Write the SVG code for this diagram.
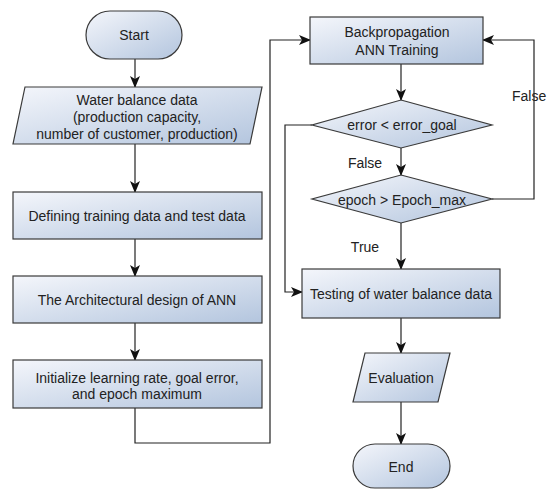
<svg xmlns="http://www.w3.org/2000/svg" width="547" height="490" viewBox="0 0 547 490">
<defs>
<linearGradient id="g" x1="0" y1="0" x2="1" y2="1">
<stop offset="0" stop-color="#f4f6fb"/>
<stop offset="1" stop-color="#b3c5de"/>
</linearGradient>
<marker id="a" viewBox="0 0 12 10" refX="11" refY="5" markerWidth="12" markerHeight="10" markerUnits="userSpaceOnUse" orient="auto">
<path d="M0,0 L12,5 L0,10 L3,5 Z" fill="#111"/>
</marker>
<style>
.s{fill:url(#g);stroke:#3a3a3a;stroke-width:1.2}
.t{font-family:"Liberation Sans",Arial,sans-serif;font-size:14px;fill:#222;text-anchor:middle}
.l{font-family:"Liberation Sans",Arial,sans-serif;font-size:14px;fill:#222}
.c{fill:none;stroke:#222;stroke-width:1.2;marker-end:url(#a)}
</style>
</defs>
<rect width="547" height="490" fill="#fff"/>
<g id="connectors">
<path class="c" d="M135,59 V87"/>
<path class="c" d="M135,144 V192"/>
<path class="c" d="M135,239 V276"/>
<path class="c" d="M135,323 V360"/>
<path class="c" d="M135,408 V443 H270 V40 H310"/>
<path class="c" d="M401,64 V100"/>
<path class="c" d="M401,148 V175"/>
<path class="c" d="M492,199 H534 V40 H483"/>
<path class="c" d="M312,125 H285 V292 H302"/>
<path class="c" d="M401,223 V269"/>
<path class="c" d="M401,318 V353"/>
<path class="c" d="M401,402 V444"/>
<text class="l" x="365" y="168" text-anchor="middle">False</text>
<text class="l" x="365" y="252" text-anchor="middle">True</text>
<text class="l" x="512" y="101">False</text>
</g>
<g id="start">
<rect class="s" x="86" y="11" width="96" height="48" rx="24"/>
<text class="t" x="134" y="40">Start</text>
</g>
<g id="water">
<path class="s" d="M25,87 H262 L250,144 H13 Z"/>
<text class="t" x="137" y="105">Water balance data</text>
<text class="t" x="137" y="122">(production capacity,</text>
<text class="t" x="137" y="139">number of customer, production)</text>
</g>
<g id="define">
<rect class="s" x="13" y="192" width="249" height="47"/>
<text class="t" x="137" y="221">Defining training data and test data</text>
</g>
<g id="arch">
<rect class="s" x="13" y="276" width="249" height="47"/>
<text class="t" x="137" y="305">The Architectural design of ANN</text>
</g>
<g id="init">
<rect class="s" x="13" y="360" width="249" height="48"/>
<text class="t" x="137" y="383">Initialize learning rate, goal error,</text>
<text class="t" x="137" y="399">and epoch maximum</text>
</g>
<g id="backprop">
<rect class="s" x="310" y="17" width="173" height="47"/>
<text class="t" x="397" y="37">Backpropagation</text>
<text class="t" x="397" y="55">ANN Training</text>
</g>
<g id="d1">
<path class="s" d="M401,100 L492,125 L401,148 L312,125 Z"/>
<text class="t" x="402" y="130">error &lt; error_goal</text>
</g>
<g id="d2">
<path class="s" d="M401,175 L492,199 L401,223 L312,199 Z"/>
<text class="t" x="402" y="205">epoch &gt; Epoch_max</text>
</g>
<g id="testing">
<rect class="s" x="302" y="269" width="198" height="49"/>
<text class="t" x="401" y="299">Testing of water balance data</text>
</g>
<g id="eval">
<path class="s" d="M365,353 H450 L438,402 H353 Z"/>
<text class="t" x="401" y="383">Evaluation</text>
</g>
<g id="end">
<rect class="s" x="353" y="444" width="97" height="44" rx="22"/>
<text class="t" x="401" y="472">End</text>
</g>
</svg>
